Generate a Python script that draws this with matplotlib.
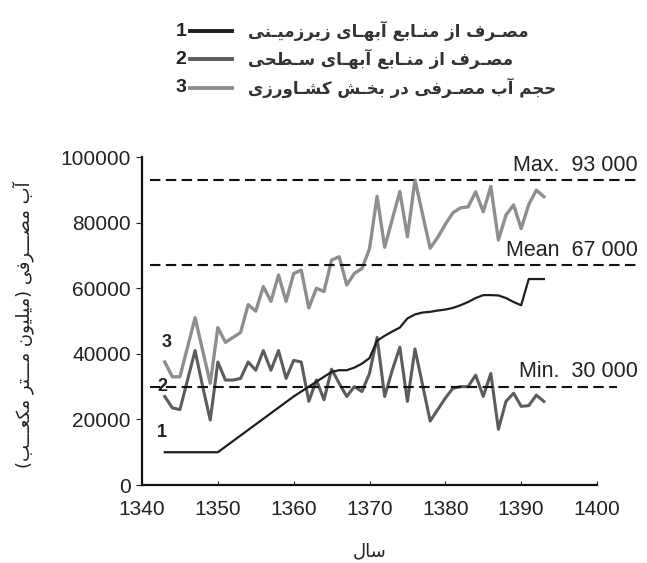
import numpy as np
import matplotlib.pyplot as plt
from matplotlib.lines import Line2D

# years and annual water use (million m3)
years = list(range(1343, 1394))
groundwater = [10000, 10000, 10000, 10000, 10000, 10000, 10000, 10000, 11700, 13400,
               15100, 16800, 18500, 20200, 21900, 23600, 25300, 27000, 28500, 30000,
               31500, 33000, 34500, 35000, 35000, 35800, 37000, 38700, 44000, 45500,
               46800, 48000, 50800, 52000, 52600, 52800, 53200, 53500, 54000, 54800,
               55800, 57000, 57900, 57900, 57800, 57000, 55800, 54800, 62800, 62800,
               62800]
surface = [27000, 23500, 23000, 32000, 41000, 30000, 19800, 37500, 32000, 32000,
           32500, 37500, 35000, 41000, 35000, 41000, 32500, 38000, 37500, 25500,
           32000, 26000, 35300, 31000, 27000, 30000, 28500, 34000, 45000, 27000,
           35000, 42000, 25500, 41500, 30500, 19500, 23000, 26500, 29500, 30000,
           30000, 33500, 27000, 34000, 17000, 25500, 28000, 24000, 24200, 27400,
           25500]
agriculture = [37500, 33000, 33000, 42000, 51000, 41000, 31000, 48000, 43500, 45000,
               46500, 55000, 53000, 60500, 56000, 64000, 56000, 64500, 65500, 54000,
               60000, 59000, 68600, 69600, 61000, 64500, 66000, 72000, 88000, 72500,
               81000, 89500, 75700, 93000, 82500, 72200, 75500, 79500, 83000, 84500,
               84800, 89400, 83300, 91000, 74700, 82300, 85400, 78200, 85500, 89900,
               87900]

stat_names = ['Max.', 'Mean', 'Min.']
stat_values = [93000, 67000, 30000]
stat_labels = ['93 000', '67 000', '30 000']

legend_labels = ['مصـرف از منـابع آبهـای زیرزمیـنی',
                 'مصـرف از منـابع آبهـای سـطحی',
                 'حجم آب مصـرفی در بخـش کشـاورزی']
ylabel = 'آب مصـــرفی (میلیون مـــتر مکعـــب)'
xlabel = 'سال'

# --- minimal arabic shaping: contextual forms + right-to-left order ---
FORMS = {
    'ا': (0xFE8D, 0xFE8E, None, None),
    'آ': (0xFE81, 0xFE82, None, None),
    'ب': (0xFE8F, 0xFE90, 0xFE91, 0xFE92),
    'ت': (0xFE95, 0xFE96, 0xFE97, 0xFE98),
    'ج': (0xFE9D, 0xFE9E, 0xFE9F, 0xFEA0),
    'ح': (0xFEA1, 0xFEA2, 0xFEA3, 0xFEA4),
    'خ': (0xFEA5, 0xFEA6, 0xFEA7, 0xFEA8),
    'د': (0xFEA9, 0xFEAA, None, None),
    'ر': (0xFEAD, 0xFEAE, None, None),
    'ز': (0xFEAF, 0xFEB0, None, None),
    'س': (0xFEB1, 0xFEB2, 0xFEB3, 0xFEB4),
    'ش': (0xFEB5, 0xFEB6, 0xFEB7, 0xFEB8),
    'ص': (0xFEB9, 0xFEBA, 0xFEBB, 0xFEBC),
    'ط': (0xFEC1, 0xFEC2, 0xFEC3, 0xFEC4),
    'ع': (0xFEC9, 0xFECA, 0xFECB, 0xFECC),
    'ف': (0xFED1, 0xFED2, 0xFED3, 0xFED4),
    'ک': (0xFB8E, 0xFB8F, 0xFB90, 0xFB91),
    'ل': (0xFEDD, 0xFEDE, 0xFEDF, 0xFEE0),
    'م': (0xFEE1, 0xFEE2, 0xFEE3, 0xFEE4),
    'ن': (0xFEE5, 0xFEE6, 0xFEE7, 0xFEE8),
    'ه': (0xFEE9, 0xFEEA, 0xFEEB, 0xFEEC),
    'و': (0xFEED, 0xFEEE, None, None),
    'ی': (0xFBFC, 0xFBFD, 0xFBFE, 0xFBFF),
}
TATWEEL = 'ـ'


def shape(text):
    out = []
    for i, ch in enumerate(text):
        if ch not in FORMS:
            out.append(ch)
            continue
        prev = text[i - 1] if i > 0 else ''
        nxt = text[i + 1] if i + 1 < len(text) else ''
        iso, fin, ini, med = FORMS[ch]
        join_prev = prev == TATWEEL or (prev in FORMS and FORMS[prev][2] is not None)
        join_next = ini is not None and (nxt == TATWEEL or nxt in FORMS)
        if join_prev and join_next:
            code = med
        elif join_prev:
            code = fin
        elif join_next:
            code = ini
        else:
            code = iso
        out.append(chr(code))
    s = ''.join(out)[::-1]
    return s.translate(str.maketrans('()', ')('))


plt.rcParams['font.family'] = ['Liberation Sans', 'DejaVu Sans']
ar_font = ['DejaVu Sans']

colors = ['#1e1e1e', '#5c5c5c', '#8e8e8e']
widths = [1.6, 2.2, 2.4]

fig = plt.figure(figsize=(6.47, 5.63), dpi=100)
ax = fig.add_axes([0.2195, 0.1385, 0.7032, 0.5826])

ax.plot(years, agriculture, color=colors[2], lw=widths[2])
ax.plot(years, surface, color=colors[1], lw=widths[1])
ax.plot(years, groundwater, color=colors[0], lw=widths[0])

# reference levels
line_ends = [1405.7, 1405.3, 1402.7]
for name, val, lab, xend in zip(stat_names, stat_values, stat_labels, line_ends):
    ax.plot([1341.0, xend], [val, val], color='#111111', lw=1.5,
            dashes=(5, 2.6), clip_on=False)
    ax.annotate(name + '  ' + lab, xy=(1405.4, val), xytext=(0, 3),
                textcoords='offset points', ha='right', va='bottom',
                fontsize=15.5, color='#222222', annotation_clip=False)

# series numbers
for num, (yr, val) in zip(['1', '2', '3'], [(1342.6, 16000), (1342.7, 29900), (1343.2, 43500)]):
    ax.text(yr, val, num, fontsize=13, fontweight='bold', color='#222222',
            ha='center', va='center')

ax.set_xlim(1340, 1400)
ax.set_ylim(0, 100000)
ax.set_xticks([1340, 1350, 1360, 1370, 1380, 1390, 1400])
ax.set_yticks([0, 20000, 40000, 60000, 80000, 100000])
ax.tick_params(axis='x', direction='in', length=3, labelsize=15, pad=11, colors='#222222')
ax.tick_params(axis='y', direction='out', length=4, labelsize=15, pad=4, colors='#222222')
for s in ['top', 'right']:
    ax.spines[s].set_visible(False)
for s in ['left', 'bottom']:
    ax.spines[s].set_linewidth(1.6)
    ax.spines[s].set_color('#111111')

fig.text(0.036, 0.423, shape(ylabel), rotation=90, ha='center', va='center',
         fontsize=13, family=ar_font, color='#222222')
fig.text(0.572, 0.02, shape(xlabel), ha='center', va='center',
         fontsize=13, family=ar_font, color='#222222')

# legend block above the plot
rows_y = [1 - 31 / 563, 1 - 59 / 563, 1 - 88 / 563]
for i, (lab, yy) in enumerate(zip(legend_labels, rows_y)):
    fig.text(181 / 647, yy, str(i + 1), fontsize=14, fontweight='bold',
             ha='center', va='center', color='#222222')
    fig.add_artist(Line2D([190 / 647, 232 / 647], [yy, yy], color=colors[i], lw=2.8))
    fig.text(248 / 647, yy, shape(lab), fontsize=12, family=ar_font,
             fontweight='bold', ha='left', va='center', color='#333333')

fig.savefig('out.png', dpi=100)
